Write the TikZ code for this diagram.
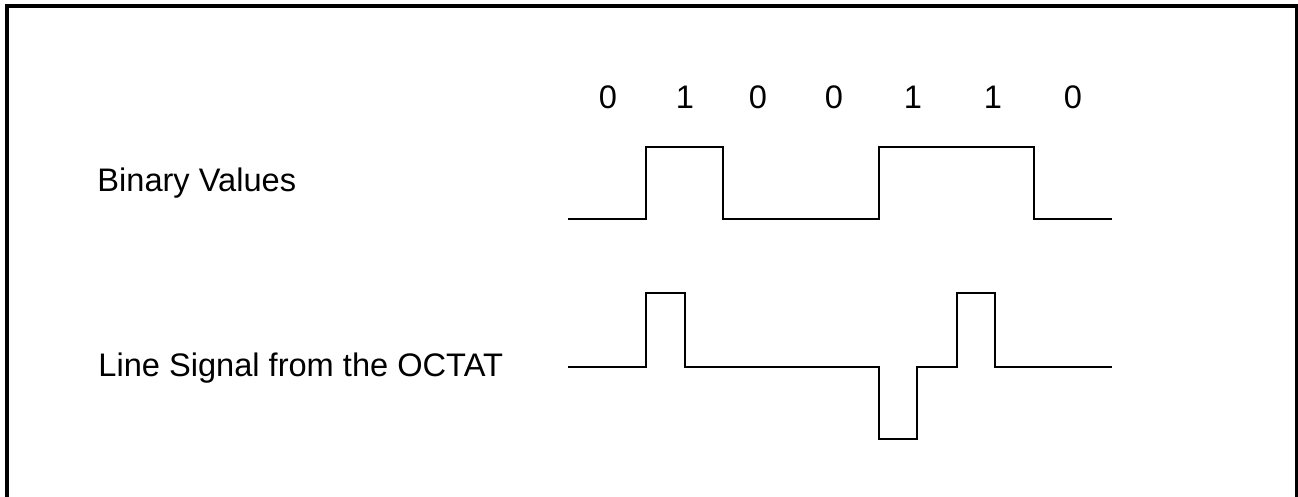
\documentclass[tikz,border=0pt]{standalone}
\usepackage{fontspec}
\setmainfont{Liberation Sans}
\tikzset{
  px/.style={x=0.5pt,y=-0.5pt},
  frame/.style={line width=1.6pt},
  wave/.style={line width=1.2pt,line join=miter},
  lbl/.style={font=\fontsize{16.3}{19}\selectfont,inner sep=0pt,anchor=base west},
  bit/.style={font=\fontsize{16.3}{19}\selectfont,inner sep=0pt,anchor=base}
}
\begin{document}
\begin{tikzpicture}[px]
\useasboundingbox (0,0) rectangle (1298,497);
\clip (0,0) rectangle (1298,497);
\draw[frame] (7,6) rectangle (1296.5,520);
% labels
\node[lbl] (bv) at (97,192) {Binary Values};
\node[lbl] (ls) at (98,377) {Line Signal from the OCTAT};
% bits
\foreach \x/\b [count=\i] in {608/0,685/1,758/0,834/0,913/1,993/1,1073/0}
  \node[bit] (b\i) at (\x,109) {\b};
% binary waveform
\draw[wave] (568,219) -- (646,219) -- (646,147) -- (723,147) -- (723,219)
  -- (879,219) -- (879,147) -- (1034,147) -- (1034,219) -- (1112,219);
% line signal waveform
\draw[wave] (568,367) -- (646,367) -- (646,293) -- (685,293) -- (685,367)
  -- (879,367) -- (879,439) -- (917,439) -- (917,367)
  -- (957,367) -- (957,293) -- (995,293) -- (995,367) -- (1112,367);
\end{tikzpicture}
\end{document}
